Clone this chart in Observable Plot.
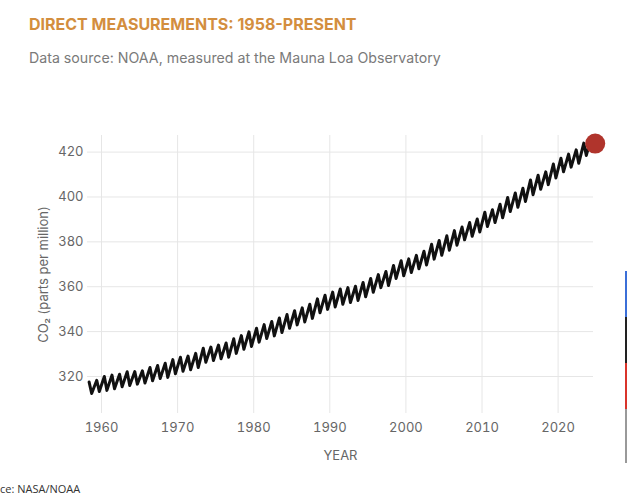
<!DOCTYPE html>
<html><head><meta charset="utf-8">
<script src="https://cdn.jsdelivr.net/npm/d3@7"></script>
<script src="https://cdn.jsdelivr.net/npm/@observablehq/plot@0.6"></script>
<style>
body{margin:0;background:#fff;width:640px;height:500px;overflow:hidden;position:relative;font-family:Inter,sans-serif}
#title{position:absolute;left:29px;top:14px;font-size:16px;font-weight:700;color:#D38E3E;line-height:20px;white-space:nowrap}
#subtitle{position:absolute;left:29px;top:49px;font-size:14.2px;color:#7a7a7a;line-height:18px;white-space:nowrap}
#chart{position:absolute;left:0;top:80px}
#caption{position:absolute;left:0;top:481px;font-family:"Open Sans",sans-serif;font-size:11px;color:#333;white-space:nowrap}
#edge{position:absolute;left:625px;top:271px;width:2px;height:192px;background:linear-gradient(#3b6fd8 0 46px,#222 46px 92px,#d9342b 92px 138px,#999 138px 192px)}
</style></head>
<body>
<div id="title">DIRECT MEASUREMENTS: 1958-PRESENT</div>
<div id="subtitle">Data source: NOAA, measured at the Mauna Loa Observatory</div>
<div id="chart"></div>
<div id="caption">ce: NASA/NOAA</div>
<div id="edge"></div>
<script>
// Mauna Loa CO2 (ppm): yearly seasonal maximum (May) and minimum (late September)
const years = [1958,1959,1960,1961,1962,1963,1964,1965,1966,1967,1968,1969,1970,1971,1972,1973,1974,1975,1976,1977,1978,1979,1980,1981,1982,1983,1984,1985,1986,1987,1988,1989,1990,1991,1992,1993,1994,1995,1996,1997,1998,1999,2000,2001,2002,2003,2004,2005,2006,2007,2008,2009,2010,2011,2012,2013,2014,2015,2016,2017,2018,2019,2020,2021,2022,2023,2024];
const mayPeak = [317.5,318.3,320.0,320.6,321.0,322.1,322.2,322.5,324.0,324.9,
325.9,327.5,328.6,329.1,330.3,332.6,333.1,334.0,334.9,336.8,
338.2,339.9,341.5,343.1,344.5,346.1,347.6,349.3,350.6,352.2,
354.6,356.2,357.6,359.0,359.6,360.2,361.9,363.7,365.4,366.8,
369.5,371.6,372.4,374.0,375.8,378.9,380.6,382.7,385.0,386.6,
388.6,390.2,393.2,394.3,396.8,399.8,401.8,403.9,407.6,409.7,
411.2,414.7,417.3,419.1,421.0,424.0,426.9];
const sepTrough = [312.4,313.3,313.8,314.5,315.4,316.0,316.6,317.1,318.1,319.1,
319.6,321.2,322.3,323.0,324.0,326.3,327.1,327.9,328.6,330.3,
332.1,333.4,335.3,336.9,338.1,339.6,341.5,343.0,344.3,345.9,
348.4,349.9,351.0,352.2,353.0,353.9,355.5,357.5,359.6,360.5,
363.7,364.9,366.3,368.0,369.7,372.3,374.0,376.3,378.5,380.9,
382.5,384.4,386.8,388.6,390.7,393.5,395.4,398.0,401.0,403.4,
405.5,408.5,411.2,413.3,415.0,418.5,422.0];
const latestMonth = [2024, 11];
const latestValue = 423.8;
const xTicks = [1960,1970,1980,1990,2000,2010,2020];
const yTicks = [320,340,360,380,400,420];

const peakMonth = 5, troughMonth = 9;
const dec = (y, m) => y + (m - 0.5) / 12;
const series = [];
years.forEach((y, i) => {
  series.push({x: dec(y, peakMonth), y: mayPeak[i]});
  series.push({x: dec(y, troughMonth), y: sepTrough[i]});
});
const latest = {x: dec(latestMonth[0], latestMonth[1]), y: latestValue};
series.push(latest);

const chart = Plot.plot({
  width: 640, height: 400,
  marginTop: 55, marginBottom: 67, marginLeft: 87, marginRight: 47,
  style: {fontFamily: "Inter, sans-serif", fontSize: "13px", color: "#666", background: "transparent", overflow: "visible"},
  x: {domain: [1958.16, 2024.65]},
  y: {domain: [303.5, 427.4]},
  marks: [
    Plot.gridX(xTicks, {stroke: "#e6e6e6", strokeOpacity: 1}),
    Plot.gridY(yTicks, {stroke: "#e6e6e6", strokeOpacity: 1}),
    Plot.axisX(xTicks, {tickSize: 0, tickPadding: 9, tickFormat: d => String(d), label: "YEAR", labelAnchor: "center", labelArrow: "none", labelOffset: 46, fill: "#666"}),
    Plot.axisY(yTicks, {tickSize: 0, tickPadding: 4, label: "CO₂ (parts per million)", labelAnchor: "center", labelArrow: "none", labelOffset: 48.5, fill: "#666"}),
    Plot.line(series, {x: "x", y: "y", stroke: "#111", strokeWidth: 3}),
    Plot.dot([latest], {x: "x", y: "y", r: 10, fill: "#B0342C", stroke: "none"})
  ]
});
document.getElementById("chart").appendChild(chart);
</script>
</body></html>
